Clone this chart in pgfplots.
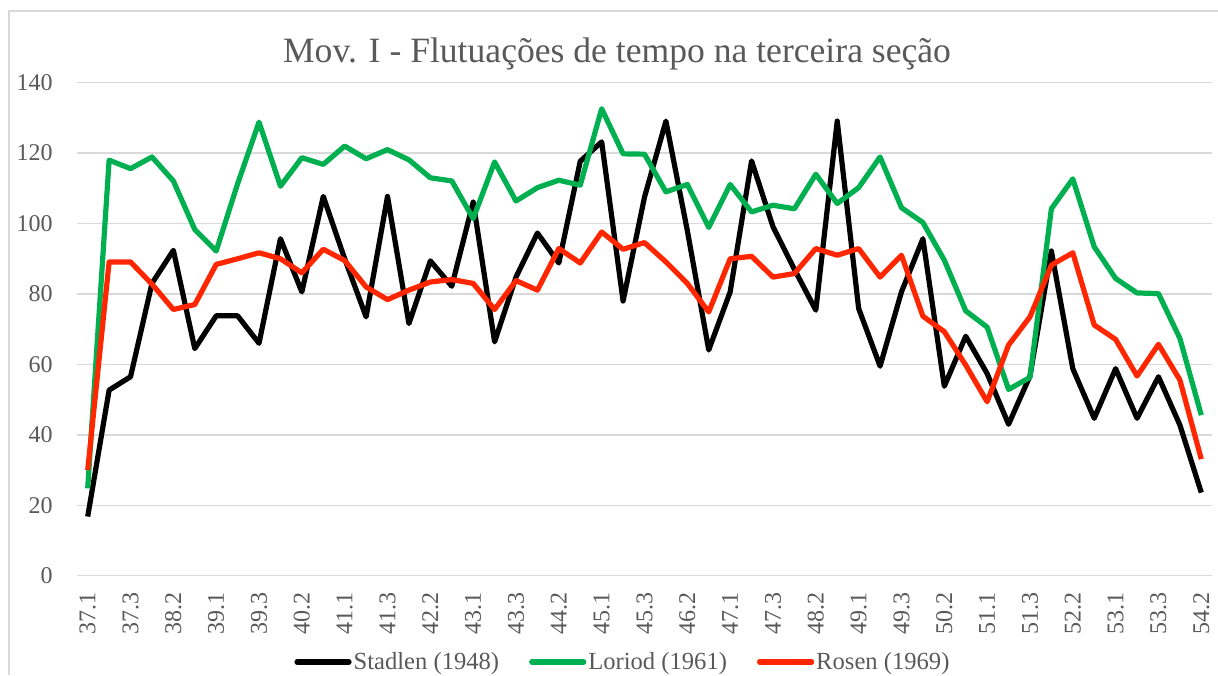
\documentclass[border=0pt]{standalone}
\usepackage{fontspec}
\setmainfont{Liberation Serif}
\usepackage{pgfplots}
\usepackage{pgfplotstable}
\pgfplotsset{compat=1.18}
\definecolor{stad}{HTML}{000000}
\definecolor{lor}{HTML}{00B050}
\definecolor{ros}{HTML}{FF2600}
\definecolor{gridc}{HTML}{D9D9D9}
\definecolor{txt}{HTML}{595959}

\pgfplotstableread{
x  s      l      r
0  16.8   24.8   30.0
1  52.7   118.0  89.1
2  56.5   115.6  89.1
3  83.0   118.9  82.8
4  92.4   112.1  75.6
5  64.5   98.3   77.0
6  73.8   92.2   88.4
7  73.8   111.3  90.0
8  66.0   128.8  91.7
9  95.7   110.6  90.0
10 80.6   118.7  86.0
11 107.7  116.8  92.7
12 90.0   122.0  89.5
13 73.5   118.4  82.0
14 107.7  121.0  78.4
15 71.6   118.1  81.1
16 89.4   113.0  83.4
17 82.2   112.1  84.1
18 106.1  101.4  83.0
19 66.4   117.5  75.6
20 84.8   106.4  83.8
21 97.3   110.2  81.1
22 88.8   112.3  92.9
23 117.7  110.9  88.8
24 123.2  132.6  97.6
25 78.0   119.8  92.7
26 107.5  119.7  94.6
27 129.1  109.0  89.1
28 98.0   111.1  83.0
29 64.1   98.9   74.9
30 80.6   111.1  90.0
31 117.8  103.3  90.7
32 99.1   105.2  84.8
33 87.0   104.2  85.8
34 75.4   114.0  92.9
35 129.1  105.7  91.0
36 75.9   110.2  92.9
37 59.5   118.9  84.8
38 80.6   104.5  91.0
39 95.7   100.3  73.7
40 53.8   89.6   69.3
41 68.0   75.2   59.8
42 57.4   70.6   49.4
43 43.0   52.9   65.5
44 56.7   56.3   73.5
45 92.2   104.2  88.2
46 58.8   112.7  91.7
47 44.7   93.4   71.2
48 58.8   84.4   67.1
49 44.7   80.3   56.7
50 56.5   80.1   65.7
51 42.8   67.4   55.6
52 23.6   45.6   33.1
}\datatable

\begin{document}
\begin{tikzpicture}
\begin{axis}[
  at={(0pt,0pt)}, anchor=south west,
  scale only axis, width=567.5pt, height=246.5pt,
  xmin=-0.5, xmax=52.5, ymin=0, ymax=140,
  ytick={0,20,...,140},
  xtick={0,2,...,52},
  xticklabels={37.1,37.3,38.2,39.1,39.3,40.2,41.1,41.3,42.2,43.1,43.3,44.2,45.1,45.3,46.2,47.1,47.3,48.2,49.1,49.3,50.2,51.1,51.3,52.2,53.1,53.3,54.2},
  axis line style={draw=none},
  ymajorgrids, grid style={gridc, line width=0.75pt},
  major tick length=0pt,
  tick label style={font=\fontsize{12}{14}\selectfont, text=txt},
  /pgf/number format/assume math mode=true,
  yticklabel style={inner sep=0pt, anchor=east},
  yticklabel shift=12pt,
  xticklabel style={inner sep=0pt, rotate=90, anchor=east},
  xticklabel shift=8pt,
  legend columns=3,
  legend style={draw=none, fill=none, at={(0.481,-0.175)}, anchor=center,
    font=\fontsize{12.3}{14}\selectfont, text=txt,
    nodes={inner sep=1pt},
    /tikz/every odd column/.append style={column sep=0pt},
    /tikz/every even column/.append style={column sep=14pt}},
  legend image code/.code={\draw[#1, line width=2.6pt, line cap=round] (0pt,0pt) -- (26pt,0pt);},
  line join=round,
]
\addplot[stad, line width=2.6pt] table[x=x, y=s] {\datatable};
\addlegendentry{Stadlen (1948)}
\addplot[lor, line width=2.6pt] table[x=x, y=l] {\datatable};
\addlegendentry{Loriod (1961)}
\addplot[ros, line width=2.6pt] table[x=x, y=r] {\datatable};
\addlegendentry{Rosen (1969)}
\end{axis}
\draw[gridc, line width=0.75pt] (-34pt,-49.65pt) -- (-34pt,282.35pt) -- (570.5pt,282.35pt);
\node[anchor=base, font=\fontsize{17.8}{20}\selectfont, text=txt, inner sep=0pt] at (270pt,256.35pt) {Mov. I - Flutuações de tempo na terceira seção};
\pgfresetboundingbox
\useasboundingbox (-38.5pt,-49.65pt) rectangle (570.5pt,287.85pt);
\end{tikzpicture}
\end{document}
